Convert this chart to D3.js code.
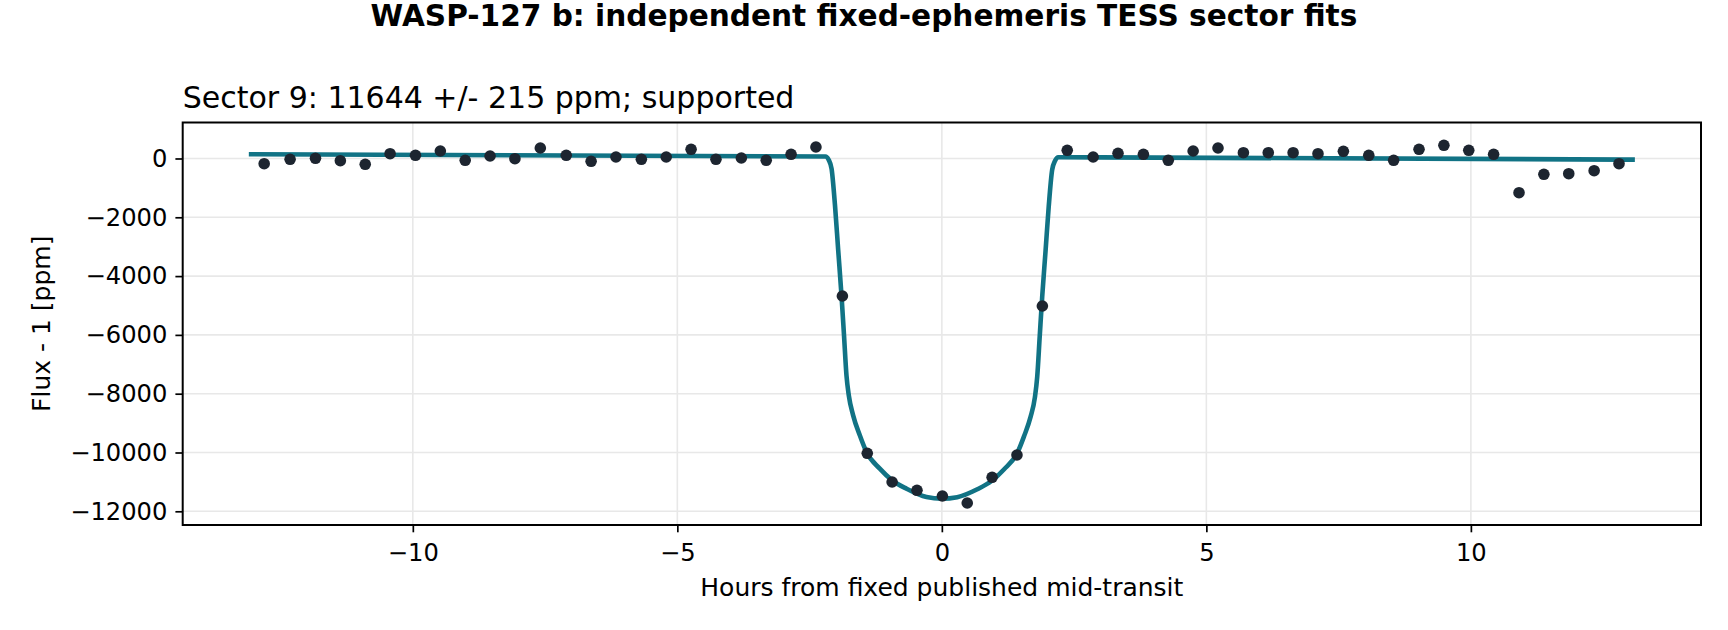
<!DOCTYPE html>
<html>
<head>
<meta charset="utf-8">
<script src="https://cdn.jsdelivr.net/npm/d3@7"></script>
<style>
  body { margin: 0; background: #fff; }
  svg { display: block; font-family: "DejaVu Sans", sans-serif; }
</style>
</head>
<body>
<svg id="chart" width="1728" height="630"></svg>
<script>
// binned TESS photometry, sector 9
const binHours = [-12.81, -12.32, -11.84, -11.37, -10.90, -10.43, -9.95, -9.48, -9.01, -8.54,
  -8.07, -7.59, -7.10, -6.63, -6.16, -5.68, -5.21, -4.74, -4.27, -3.79,
  -3.32, -2.85, -2.38, -1.88, -1.41, -0.94, -0.47, 0.01, 0.48, 0.95,
  1.42, 1.90, 2.37, 2.86, 3.33, 3.81, 4.28, 4.75, 5.22, 5.70,
  6.17, 6.64, 7.11, 7.59, 8.07, 8.54, 9.02, 9.49, 9.96, 10.43,
  10.91, 11.38, 11.85, 12.33, 12.80];
const binPpm = [-177, -27, 7, -75, -198, 163, 109, 255, -61, 85,
  -7, 357, 109, -95, 51, -27, 51, 313, -27, 17,
  -61, 143, 391, -4677, -10027, -11003, -11286, -11480, -11718, -10844,
  -10085, -5017, 279, 51, 177, 143, -61, 255, 357, 197,
  197, 197, 163, 245, 109, -61, 313, 449, 279, 143,
  -1163, -537, -517, -415, -177];

// fitted transit model
const modelHours = [-13.1, -2.2, -2.14, -2.085, -2.02, -1.96, -1.897, -1.85, -1.803, -1.759,
  -1.677, -1.551, -1.425, -1.173, -0.94, -0.67, -0.29, 0,
  0.29, 0.67, 0.94, 1.173, 1.425, 1.551, 1.677, 1.759, 1.803, 1.85,
  1.897, 1.96, 2.02, 2.085, 2.14, 2.2, 13.1];
const modelPpm = [145, 70, -40, -346, -1592, -3100, -4654, -6000, -7375, -8055,
  -8736, -9416, -9983, -10550, -10946, -11230, -11514, -11570,
  -11520, -11250, -10970, -10580, -10020, -9460, -8790, -8120, -7420, -6050,
  -4700, -3150, -1640, -390, -80, 40, -40];

const xTicks = [-10, -5, 0, 5, 10];
const yTicks = [0, -2000, -4000, -6000, -8000, -10000, -12000];

const title = "WASP-127 b: independent fixed-ephemeris TESS sector fits";
const subtitle = "Sector 9: 11644 +/- 215 ppm; supported";

const svg = d3.select("#chart");
const m = { left: 182.7, right: 1701, top: 122.5, bottom: 525 };

const x = d3.scaleLinear().domain([-14.35, 14.35]).range([m.left, m.right]);
const y = d3.scaleLinear().domain([-12466, 1224]).range([m.bottom, m.top]);

svg.append("rect").attr("width", 1728).attr("height", 630).attr("fill", "#fff");

// grid
const grid = svg.append("g").attr("stroke", "#e8e8e8").attr("stroke-width", 1.6);
grid.selectAll(".gx").data(xTicks).enter().append("line")
  .attr("x1", d => x(d)).attr("x2", d => x(d)).attr("y1", m.top).attr("y2", m.bottom);
grid.selectAll(".gy").data(yTicks).enter().append("line")
  .attr("y1", d => y(d)).attr("y2", d => y(d)).attr("x1", m.left).attr("x2", m.right);

// model curve
const line = d3.line()
  .x((d, i) => x(modelHours[i]))
  .y(d => y(d))
  .curve(d3.curveMonotoneX);

svg.append("path")
  .datum(modelPpm)
  .attr("d", line)
  .attr("fill", "none")
  .attr("stroke", "#117385")
  .attr("stroke-width", 4.6)
  .attr("stroke-linejoin", "round");

// binned points
svg.selectAll(".pt").data(binPpm).enter().append("circle")
  .attr("cx", (d, i) => x(binHours[i]))
  .attr("cy", d => y(d))
  .attr("r", 5.8)
  .attr("fill", "#1d2530");

// axes
const xAxis = svg.append("g")
  .attr("transform", `translate(0,${m.bottom})`)
  .call(d3.axisBottom(x).tickValues(xTicks).tickSize(7.3).tickPadding(7).tickFormat(d3.format("")));
const yAxis = svg.append("g")
  .attr("transform", `translate(${m.left},0)`)
  .call(d3.axisLeft(y).tickValues(yTicks).tickSize(7.3).tickPadding(8).tickFormat(d => d < 0 ? "\u2212" + Math.abs(d) : d));

[xAxis, yAxis].forEach(a => {
  a.select(".domain").remove();
  a.selectAll(".tick line").attr("stroke", "#000").attr("stroke-width", 1.7);
  a.selectAll(".tick text").attr("fill", "#000").attr("font-size", 24.2).attr("font-family", "DejaVu Sans");
});
xAxis.selectAll(".tick text").attr("dy", null).attr("y", 36);

// frame
svg.append("rect")
  .attr("x", m.left).attr("y", m.top)
  .attr("width", m.right - m.left).attr("height", m.bottom - m.top)
  .attr("fill", "none").attr("stroke", "#000").attr("stroke-width", 2);

// labels
svg.append("text")
  .attr("x", (m.left + m.right) / 2).attr("y", 596)
  .attr("text-anchor", "middle").attr("font-size", 25)
  .text("Hours from fixed published mid-transit");

svg.append("text")
  .attr("transform", `translate(49.5,${(m.top + m.bottom) / 2}) rotate(-90)`)
  .attr("text-anchor", "middle").attr("font-size", 25)
  .text("Flux - 1 [ppm]");

svg.append("text")
  .attr("x", m.left).attr("y", 107.5)
  .attr("font-size", 30)
  .text(subtitle);

svg.append("text")
  .attr("x", 864).attr("y", 26)
  .attr("text-anchor", "middle").attr("font-size", 29.6).attr("font-weight", "bold")
  .text(title);
</script>
</body>
</html>
